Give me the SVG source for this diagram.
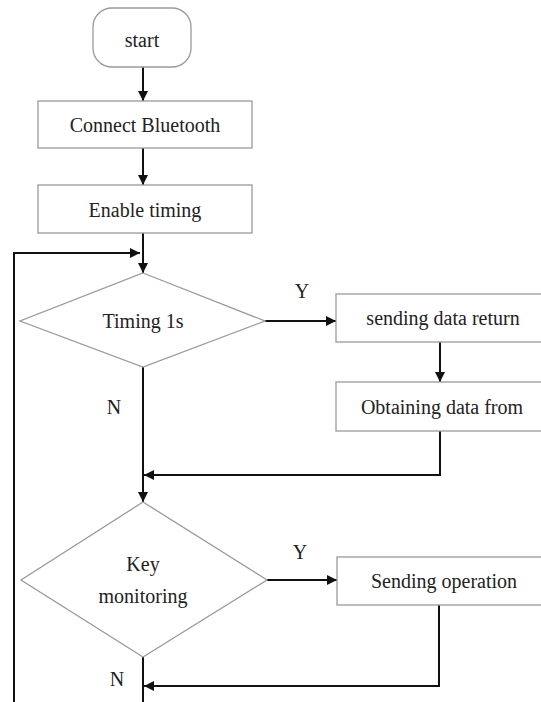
<svg xmlns="http://www.w3.org/2000/svg" width="541" height="702" viewBox="0 0 541 702">
<style>
.box{fill:#fff;stroke:#9a9a9a;stroke-width:1.3}
.t{font-family:"Liberation Serif","Times New Roman",serif;font-size:20px;fill:#222;text-anchor:middle;dominant-baseline:central}
.c{fill:none;stroke:#111;stroke-width:2}
</style>
<defs>
<marker id="ah" viewBox="0 0 10 10" refX="10" refY="5" markerWidth="11" markerHeight="10" markerUnits="userSpaceOnUse" orient="auto">
<path d="M0,0 L10,5 L0,10 Z" fill="#111"/>
</marker>
</defs>
<rect width="541" height="702" fill="#fff"/>
<g id="connectors">
<path class="c" d="M143,67 V101" marker-end="url(#ah)"/>
<path class="c" d="M143,148 V185" marker-end="url(#ah)"/>
<path class="c" d="M143,233 V273" marker-end="url(#ah)"/>
<path class="c" d="M14,702 V253 H140" marker-end="url(#ah)"/>
<path class="c" d="M265,321 H336" marker-end="url(#ah)"/>
<path class="c" d="M440,342 V382" marker-end="url(#ah)"/>
<path class="c" d="M440,431 V475 H144" marker-end="url(#ah)"/>
<path class="c" d="M143,367 V502" marker-end="url(#ah)"/>
<path class="c" d="M267,580 H337" marker-end="url(#ah)"/>
<path class="c" d="M439,605 V686 H144" marker-end="url(#ah)"/>
<path class="c" d="M143,657 V702"/>
<text class="t" x="302" y="291">Y</text>
<text class="t" x="114" y="407">N</text>
<text class="t" x="300" y="552">Y</text>
<text class="t" x="117" y="679">N</text>
</g>
<g id="start">
<rect class="box" x="93" y="8" width="98" height="59" rx="19"/>
<text class="t" x="142" y="40">start</text>
</g>
<g id="connect">
<rect class="box" x="38" y="101" width="214" height="47"/>
<text class="t" x="145" y="125">Connect Bluetooth</text>
</g>
<g id="enable">
<rect class="box" x="38" y="185" width="214" height="48"/>
<text class="t" x="145" y="210">Enable timing</text>
</g>
<g id="timing">
<polygon class="box" points="143,273 265,321 143,367 20,321"/>
<text class="t" x="143" y="321">Timing 1s</text>
</g>
<g id="sending-data">
<rect class="box" x="336" y="294" width="210" height="48"/>
<text class="t" x="443" y="318">sending data return</text>
</g>
<g id="obtaining">
<rect class="box" x="336" y="382" width="210" height="49"/>
<text class="t" x="442" y="407">Obtaining data from</text>
</g>
<g id="key">
<polygon class="box" points="143,502 267,580 143,657 21,580"/>
<text class="t" x="143" y="564">Key</text>
<text class="t" x="143" y="596">monitoring</text>
</g>
<g id="sending-op">
<rect class="box" x="337" y="557" width="210" height="48"/>
<text class="t" x="444" y="581">Sending operation</text>
</g>
</svg>
